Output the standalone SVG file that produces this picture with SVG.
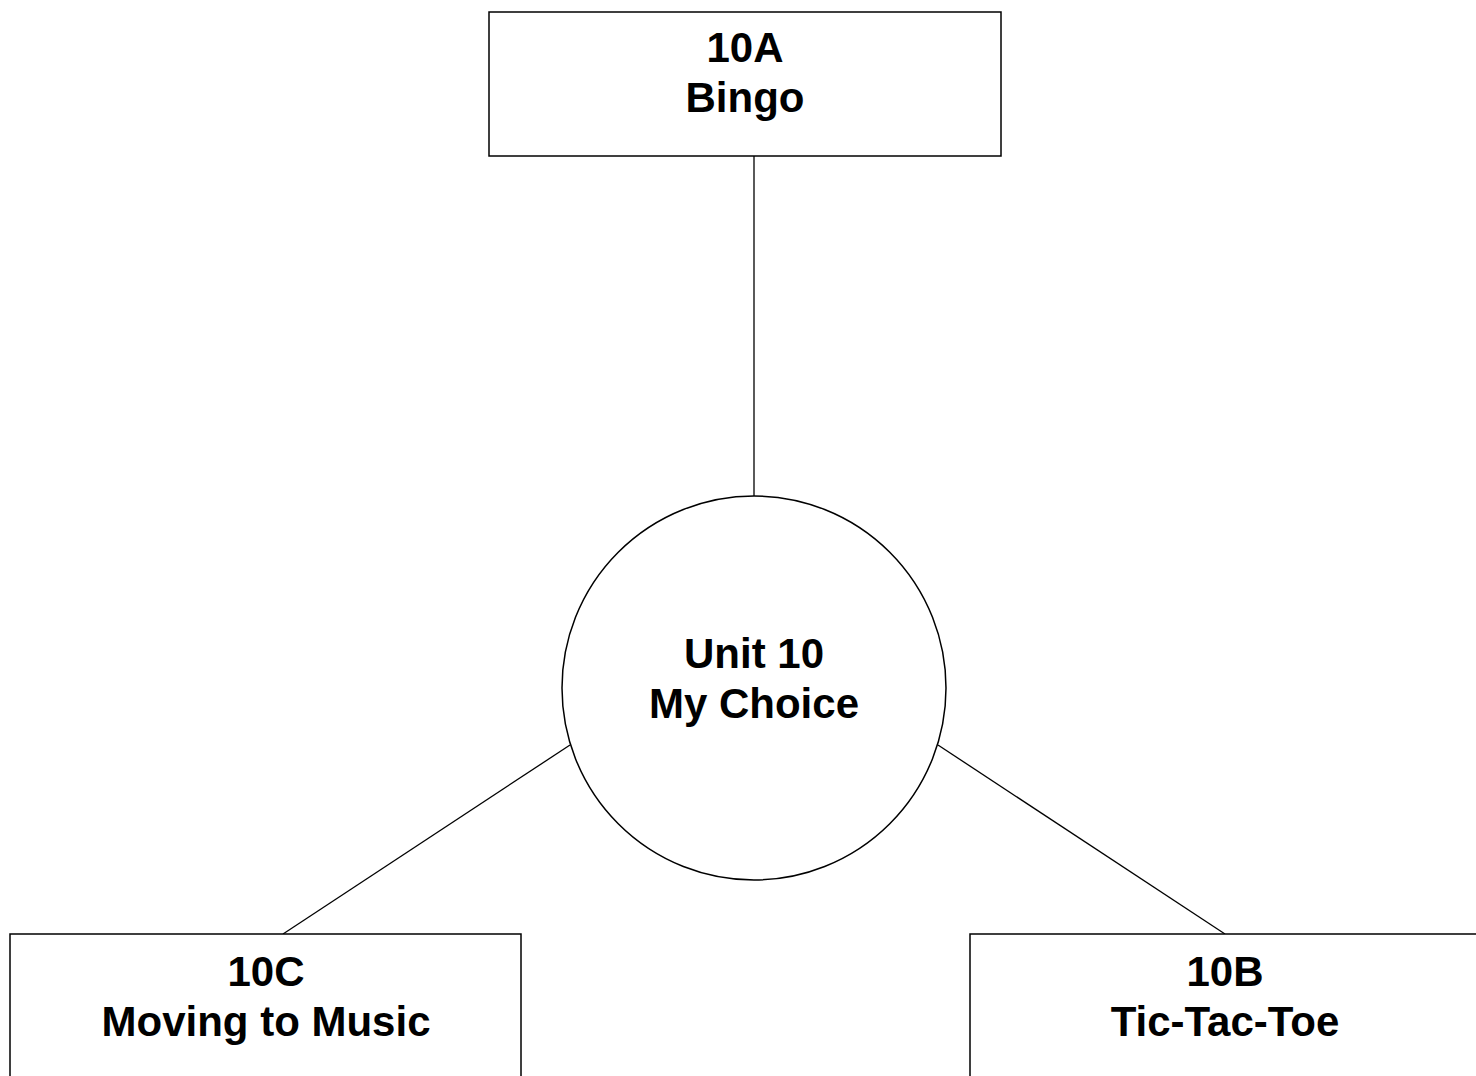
<svg xmlns="http://www.w3.org/2000/svg" width="1476" height="1076" viewBox="0 0 1476 1076">
<style>
.box{fill:#fff;stroke:#000;stroke-width:1.5}
.edge{stroke:#000;stroke-width:1.3;fill:none}
.lbl{font-weight:bold;font-size:42px;text-anchor:middle;fill:#000}
</style>
<rect width="1476" height="1076" fill="#fff"/>
<g id="connectors">
<line class="edge" x1="754" y1="156" x2="754" y2="496"/>
<line class="edge" x1="570" y1="745" x2="283" y2="934"/>
<line class="edge" x1="938" y1="745" x2="1225" y2="934"/>
</g>
<g font-family="Liberation Sans, Arial, Helvetica, sans-serif">
<g id="node-10A">
<rect class="box" x="489" y="12" width="512" height="144"/>
<text class="lbl" x="745" y="62">10A</text>
<text class="lbl" x="745" y="112">Bingo</text>
</g>
<g id="node-unit10">
<circle class="box" cx="754" cy="688" r="192"/>
<text class="lbl" x="754" y="668">Unit 10</text>
<text class="lbl" x="754" y="718">My Choice</text>
</g>
<g id="node-10C">
<rect class="box" x="10" y="934" width="511" height="160"/>
<text class="lbl" x="266" y="986">10C</text>
<text class="lbl" x="266" y="1036">Moving to Music</text>
</g>
<g id="node-10B">
<rect class="box" x="970" y="934" width="511" height="160"/>
<text class="lbl" x="1225" y="986">10B</text>
<text class="lbl" x="1225" y="1036">Tic-Tac-Toe</text>
</g>
</g>
</svg>
